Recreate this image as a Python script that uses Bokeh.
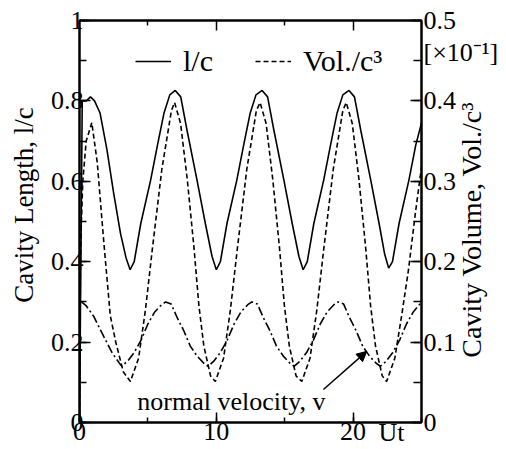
import math
from bokeh.plotting import figure
from bokeh.models import (Range1d, LinearAxis, SingleIntervalTicker, FixedTicker,
                          CustomJSTickFormatter, Legend, LegendItem, Label, Arrow, NormalHead)
from bokeh.core.properties import value
from bokeh.embed import file_html
from bokeh.resources import INLINE

FONT = "Liberation Serif"

# ---- data ----
# cavity length l/c (left axis)
time_len = [0.0, 0.2, 0.5, 0.8, 1.1, 1.5, 2.0, 2.5, 3.0, 3.4, 3.7,
            4.0, 4.48, 5.2, 5.7, 6.18, 6.6, 7.0, 7.4, 7.86, 8.59, 9.2, 9.69, 10.0,
            10.3, 10.78, 11.5, 12.0, 12.48, 12.9, 13.35, 13.75, 14.21, 14.94, 15.55, 16.04, 16.35,
            16.65, 17.13, 17.85, 18.35, 18.83, 19.25, 19.7, 20.1, 20.56, 21.29, 21.9, 22.3, 22.6,
            22.88, 23.36, 24.08, 24.58, 25.0]
len_c = [0.0, 0.80, 0.80, 0.81, 0.80, 0.77, 0.68, 0.57, 0.47, 0.41, 0.38,
         0.40, 0.495, 0.603, 0.69, 0.77, 0.815, 0.826, 0.81, 0.727, 0.603, 0.495, 0.413, 0.38,
         0.40, 0.495, 0.603, 0.69, 0.77, 0.815, 0.826, 0.81, 0.727, 0.603, 0.495, 0.413, 0.38,
         0.40, 0.495, 0.603, 0.69, 0.77, 0.815, 0.826, 0.81, 0.727, 0.603, 0.495, 0.42, 0.384,
         0.40, 0.495, 0.603, 0.69, 0.745]

# cavity volume Vol./c^3 [x10^-1] (right axis)
time_vol = [0.0, 0.07, 0.12, 0.24, 0.49, 0.9, 1.3, 1.65, 1.85, 2.25, 2.65, 3.2, 3.72,
            4.32, 4.82, 5.32, 6.02, 6.72, 6.95,
            7.39, 7.88, 8.36, 8.73, 9.09, 9.58, 9.93,
            10.53, 11.03, 11.53, 12.23, 12.93, 13.2,
            13.64, 14.13, 14.61, 14.98, 15.34, 15.83, 16.25,
            16.85, 17.35, 17.85, 18.55, 19.25, 19.5,
            19.94, 20.43, 20.91, 21.28, 21.64, 22.13, 22.45,
            23.05, 23.55, 24.05, 24.55, 25.0]
vol_c3 = [0.0, 0.20, 0.24, 0.30, 0.35, 0.373, 0.323, 0.25, 0.21, 0.133, 0.10, 0.063, 0.051,
          0.08, 0.14, 0.215, 0.315, 0.388, 0.398,
          0.372, 0.302, 0.219, 0.145, 0.095, 0.058, 0.051,
          0.08, 0.14, 0.215, 0.315, 0.388, 0.398,
          0.372, 0.302, 0.219, 0.145, 0.095, 0.058, 0.051,
          0.08, 0.14, 0.215, 0.315, 0.388, 0.398,
          0.372, 0.302, 0.219, 0.145, 0.095, 0.058, 0.051,
          0.08, 0.133, 0.19, 0.26, 0.318]

# normal velocity v (left axis scale)
time_vel = [0.15, 0.5, 1.04, 1.77, 2.39, 2.99, 3.1,
            3.6, 4.0, 4.5, 5.0, 5.5, 6.0, 6.3,
            6.7, 7.15, 7.6, 8.1, 8.6, 9.1, 9.4,
            9.8, 10.3, 10.8, 11.3, 11.8, 12.3, 12.6,
            13.0, 13.45, 13.9, 14.4, 14.9, 15.4, 15.7,
            16.1, 16.6, 17.1, 17.6, 18.1, 18.6, 18.9,
            19.3, 19.75, 20.2, 20.7, 21.2, 21.7, 22.0,
            22.4, 22.9, 23.4, 23.9, 24.4, 25.0]
vel = [0.30, 0.29, 0.264, 0.214, 0.173, 0.144, 0.14,
       0.156, 0.174, 0.205, 0.245, 0.275, 0.293, 0.30,
       0.295, 0.26, 0.23, 0.19, 0.165, 0.147, 0.14,
       0.152, 0.174, 0.205, 0.245, 0.275, 0.293, 0.30,
       0.295, 0.26, 0.23, 0.19, 0.165, 0.147, 0.14,
       0.152, 0.174, 0.205, 0.245, 0.275, 0.293, 0.30,
       0.295, 0.26, 0.23, 0.19, 0.165, 0.147, 0.14,
       0.152, 0.174, 0.205, 0.245, 0.275, 0.30]

x_ticks_interval = 10
left_ticks_interval = 0.2
right_ticks_interval = 0.1

left_title = "Cavity Length, l/c"
right_title = "Cavity Volume, Vol./c³"
right_scale_note = "[×10⁻¹]"
x_unit = "Ut"
arrow_text = "normal velocity, v"

# ---- figure ----
p = figure(width=506, height=449, x_range=Range1d(0, 25), y_range=Range1d(0, 1),
           x_axis_type=None, y_axis_type=None, output_backend="svg", toolbar_location=None,
           min_border_left=79, min_border_right=85, min_border_top=20, min_border_bottom=26)
p.extra_y_ranges = {"vol": Range1d(0, 0.5)}
p.outline_line_color = "black"
p.outline_line_width = 2
p.background_fill_color = "white"
p.border_fill_color = "white"

fmt = CustomJSTickFormatter(code="return tick.toFixed(2).replace(/0+$/,'').replace(/\\.$/,'');")


def text_fmt(s):
    return CustomJSTickFormatter(args=dict(s=s), code="return s;")


def style(ax, major, minor, size="26px"):
    ax.axis_line_width = 2
    ax.axis_line_color = "black"
    ax.major_tick_in = major
    ax.major_tick_out = 0
    ax.minor_tick_in = minor
    ax.minor_tick_out = 0
    ax.major_tick_line_width = 1.5
    ax.minor_tick_line_width = 1.5
    ax.major_label_text_font = FONT
    ax.major_label_text_color = "black"
    ax.major_label_text_font_size = size


def helper(ax, size):
    ax.axis_line_color = None
    ax.major_tick_line_color = None
    ax.minor_tick_line_color = None
    ax.major_tick_in = 0
    ax.major_tick_out = 0
    ax.minor_tick_in = 0
    ax.minor_tick_out = 0
    ax.major_label_text_font = FONT
    ax.major_label_text_color = "black"
    ax.major_label_text_font_size = size


# bottom axis + "Ut" on the same row
xb = LinearAxis(ticker=SingleIntervalTicker(interval=x_ticks_interval, num_minor_ticks=2),
                formatter=fmt)
style(xb, 10, 5)
xb.major_label_standoff = 0
p.add_layout(xb, "below")

xu = LinearAxis(ticker=FixedTicker(ticks=[22.8], minor_ticks=[]), formatter=text_fmt(x_unit))
helper(xu, "26px")
xu.major_label_standoff = -25
p.add_layout(xu, "below")

# top axis: ticks only, no labels
xt1 = LinearAxis(ticker=FixedTicker(ticks=[], minor_ticks=[5, 15]))
style(xt1, 10, 5)
xt1.major_label_standoff = 0
p.add_layout(xt1, "above")
xt2 = LinearAxis(ticker=FixedTicker(ticks=[], minor_ticks=[10, 20]))
style(xt2, 10, 10)
xt2.axis_line_color = None
xt2.major_label_standoff = 0
p.add_layout(xt2, "above")

# left axis + its title
yl = LinearAxis(ticker=SingleIntervalTicker(interval=left_ticks_interval, num_minor_ticks=2),
                formatter=fmt)
style(yl, 11, 7)
yl.major_label_standoff = -4
p.add_layout(yl, "left")

yl_title = LinearAxis(ticker=FixedTicker(ticks=[0.541], minor_ticks=[]),
                      formatter=text_fmt(left_title))
helper(yl_title, "27px")
yl_title.major_label_orientation = "vertical"
yl_title.major_label_standoff = 8
p.add_layout(yl_title, "left")

# right axis, its title and the scale note
yr = LinearAxis(y_range_name="vol",
                ticker=SingleIntervalTicker(interval=right_ticks_interval, num_minor_ticks=2),
                formatter=fmt)
style(yr, 11, 8)
yr.major_label_standoff = 2
p.add_layout(yr, "right")

yr_title = LinearAxis(y_range_name="vol", ticker=FixedTicker(ticks=[0.0806], minor_ticks=[]),
                      formatter=text_fmt(right_title))
helper(yr_title, "28px")
yr_title.major_label_orientation = math.pi / 2
yr_title.major_label_standoff = 12
p.add_layout(yr_title, "right")

yr_note = LinearAxis(y_range_name="vol", ticker=FixedTicker(ticks=[0.46], minor_ticks=[]),
                     formatter=text_fmt(right_scale_note))
helper(yr_note, "26px")
yr_note.major_label_standoff = -82
p.add_layout(yr_note, "right")

r_len = p.line(time_len, len_c, line_color="black", line_width=1.6)
r_vol = p.line(time_vol, vol_c3, y_range_name="vol", line_color="black", line_width=1.6,
               line_dash="5 3")
r_vel = p.line(time_vel, vel, line_color="black", line_width=1.6, line_dash="9 3 2 3")

legend = Legend(items=[LegendItem(label=value("l/c"), renderers=[r_len]),
                       LegendItem(label=value("Vol./c³"), renderers=[r_vol])],
                orientation="horizontal", location=(56, 344),
                glyph_width=36, glyph_height=20, label_standoff=12, spacing=42,
                padding=0, margin=0, border_line_color=None, background_fill_alpha=0,
                label_text_font=FONT, label_text_font_size="30px", label_text_color="black")
p.add_layout(legend)

p.add_layout(Label(x=4.23, y=0.052, text=arrow_text, text_font=FONT,
                   text_font_size="26px", text_color="black", text_baseline="alphabetic"))
p.add_layout(Arrow(end=NormalHead(size=10, fill_color="black", line_color="black"),
                   x_start=17.83, y_start=0.082, x_end=21.0, y_end=0.177,
                   line_color="black", line_width=1.5))

open("out.html", "w").write(file_html(p, INLINE))
